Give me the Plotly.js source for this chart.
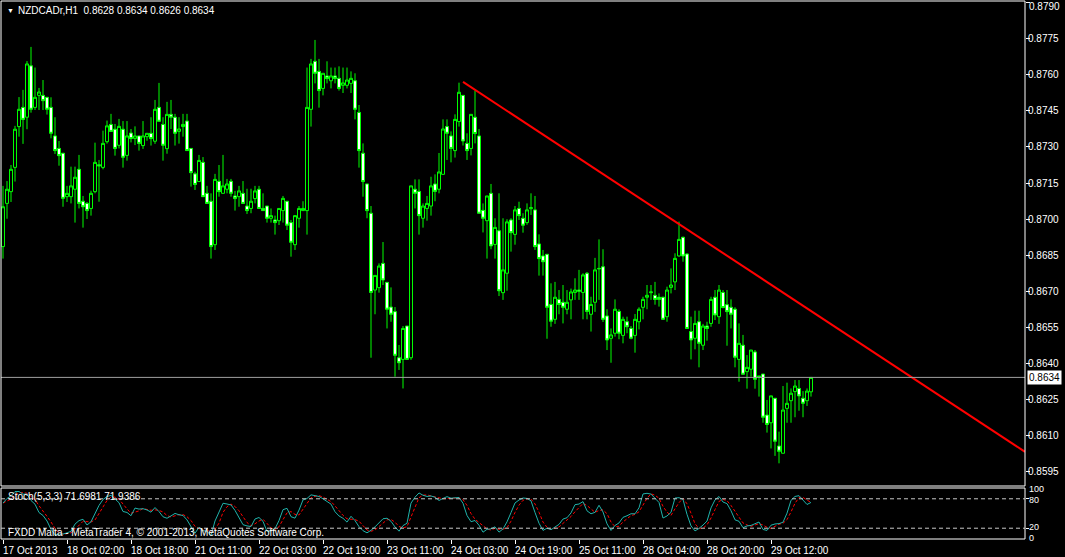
<!DOCTYPE html>
<html>
<head>
<meta charset="utf-8">
<script src="https://cdn.plot.ly/plotly-3.0.1.min.js"></script>
<style>
html,body{margin:0;padding:0;background:#000;}
#chart{width:1065px;height:557px;}
</style>
</head>
<body>
<div id="chart"></div>
<script>
// ---- Data: NZDCADr H1 candles ----
const O=[0.86885,0.87065,0.87114,0.87215,0.87385,0.87465,0.87424,0.87638,0.87465,0.87515,
0.87515,0.87507,0.87465,0.87346,0.87294,0.87274,0.87093,0.87093,0.87124,0.87207,
0.87074,0.87065,0.87044,0.87114,0.87226,0.87215,0.87322,0.87394,0.87374,0.87307,
0.87374,0.87265,0.87358,0.87335,0.87346,0.87306,0.87343,0.87357,0.87324,0.87465,
0.87394,0.87293,0.87436,0.87424,0.87365,0.87385,0.87408,0.87294,0.87188,0.87156,
0.87236,0.87107,0.87074,0.86893,0.87157,0.87107,0.87124,0.87157,0.87096,0.87093,
0.87107,0.87054,0.87044,0.87085,0.87124,0.87044,0.87054,0.87003,0.86996,0.86993,
0.87035,0.87074,0.86985,0.86893,0.87003,0.87035,0.87035,0.87457,0.87657,0.87615,
0.87544,0.87596,0.87576,0.87596,0.87586,0.87557,0.87557,0.87565,0.87576,0.87444,
0.87274,0.87146,0.87024,0.86704,0.86714,0.86815,0.86736,0.86633,0.86614,0.86422,
0.86415,0.86554,0.86422,0.87124,0.87115,0.87003,0.87044,0.87054,0.87146,0.87124,
0.87186,0.87385,0.87346,0.87285,0.87406,0.87515,0.87315,0.87294,0.87424,0.87346,
0.87036,0.86993,0.87107,0.86894,0.86951,0.86693,0.86774,0.86996,0.86936,0.87044,
0.87003,0.86985,0.87043,0.87038,0.86896,0.86846,0.86853,0.86644,0.86582,0.86665,
0.86653,0.86624,0.86663,0.86694,0.86704,0.86694,0.86774,0.86603,0.86653,0.86792,
0.86801,0.86596,0.86503,0.86524,0.86615,0.86515,0.86572,0.86544,0.86515,0.86572,
0.86632,0.86674,0.86693,0.86682,0.86674,0.86674,0.86593,0.86715,0.86738,0.86846,
0.86924,0.86854,0.86531,0.86503,0.86572,0.86474,0.86554,0.86565,0.86674,0.86593,
0.86694,0.86643,0.86632,0.86624,0.86415,0.86474,0.86364,0.86374,0.86446,0.86346,
0.86354,0.86183,0.86151,0.86253,0.86054,0.86024,0.86211,0.86243,0.86281,0.86294,
0.86253,0.86243,0.86280];
const H=[0.87138,0.87158,0.87225,0.87388,0.87508,0.87538,0.87658,0.87717,0.87631,0.87546,
0.87579,0.87507,0.87507,0.87424,0.87325,0.87274,0.87138,0.87218,0.87218,0.87267,
0.87096,0.87071,0.87118,0.87318,0.87246,0.87368,0.87410,0.87438,0.87396,0.87417,
0.87408,0.87408,0.87375,0.87386,0.87346,0.87408,0.87357,0.87424,0.87496,0.87567,
0.87424,0.87488,0.87496,0.87438,0.87424,0.87438,0.87438,0.87294,0.87197,0.87267,
0.87258,0.87138,0.87107,0.87188,0.87225,0.87267,0.87167,0.87167,0.87117,0.87138,
0.87158,0.87126,0.87126,0.87138,0.87138,0.87107,0.87054,0.87044,0.87014,0.87044,
0.87096,0.87074,0.86996,0.87014,0.87054,0.87074,0.87631,0.87667,0.87746,0.87667,
0.87607,0.87657,0.87631,0.87631,0.87636,0.87631,0.87631,0.87615,0.87607,0.87475,
0.87315,0.87146,0.87054,0.86765,0.86815,0.86904,0.86736,0.86715,0.86633,0.86475,
0.86554,0.86554,0.87138,0.87165,0.87165,0.87065,0.87096,0.87176,0.87186,0.87275,
0.87415,0.87415,0.87365,0.87436,0.87568,0.87515,0.87357,0.87436,0.87535,0.87375,
0.87065,0.87096,0.87146,0.87003,0.87107,0.87003,0.86999,0.87003,0.87054,0.87072,
0.87024,0.87065,0.87107,0.87096,0.86936,0.86871,0.86853,0.86732,0.86738,0.86704,
0.86725,0.86704,0.86710,0.86753,0.86788,0.86774,0.86779,0.86676,0.86838,0.86915,
0.86874,0.86624,0.86544,0.86665,0.86624,0.86593,0.86593,0.86554,0.86604,0.86632,
0.86676,0.86725,0.86725,0.86738,0.86690,0.86676,0.86718,0.86794,0.86857,0.86989,
0.86926,0.86857,0.86593,0.86618,0.86618,0.86563,0.86572,0.86676,0.86704,0.86725,
0.86704,0.86704,0.86665,0.86632,0.86565,0.86517,0.86433,0.86454,0.86454,0.86346,
0.86354,0.86246,0.86263,0.86253,0.86114,0.86304,0.86318,0.86294,0.86329,0.86329,
0.86283,0.86294,0.86340];
const L=[0.86835,0.87001,0.87071,0.87156,0.87343,0.87313,0.87374,0.87443,0.87454,0.87454,
0.87454,0.87435,0.87336,0.87271,0.87222,0.87051,0.87071,0.87065,0.86985,0.87044,
0.86964,0.87000,0.87014,0.87107,0.87072,0.87207,0.87314,0.87364,0.87264,0.87294,
0.87214,0.87243,0.87319,0.87308,0.87285,0.87292,0.87326,0.87306,0.87313,0.87407,
0.87243,0.87272,0.87375,0.87306,0.87314,0.87343,0.87285,0.87135,0.87121,0.87156,
0.87093,0.87065,0.86835,0.86871,0.87093,0.87107,0.87107,0.87093,0.87035,0.87051,
0.87065,0.87021,0.87024,0.87065,0.87044,0.87035,0.86985,0.86985,0.86935,0.86975,
0.86985,0.86954,0.86843,0.86871,0.86964,0.87035,0.86935,0.87385,0.87565,0.87464,
0.87515,0.87565,0.87544,0.87565,0.87535,0.87525,0.87544,0.87525,0.87415,0.87214,
0.87093,0.87003,0.86422,0.86603,0.86693,0.86725,0.86544,0.86572,0.86343,0.86371,
0.86294,0.86413,0.86413,0.87044,0.86935,0.86964,0.86993,0.87014,0.87074,0.87107,
0.87186,0.87246,0.87236,0.87256,0.87385,0.87306,0.87246,0.87265,0.87315,0.87024,
0.86944,0.86835,0.86874,0.86835,0.86679,0.86663,0.86701,0.86864,0.86893,0.86996,
0.86943,0.86976,0.87017,0.86871,0.86764,0.86764,0.86501,0.86551,0.86563,0.86603,
0.86565,0.86603,0.86582,0.86663,0.86663,0.86582,0.86582,0.86531,0.86613,0.86663,
0.86571,0.86454,0.86401,0.86510,0.86499,0.86482,0.86524,0.86499,0.86443,0.86540,
0.86582,0.86624,0.86663,0.86643,0.86635,0.86582,0.86572,0.86690,0.86704,0.86843,
0.86822,0.86544,0.86415,0.86457,0.86382,0.86454,0.86493,0.86551,0.86579,0.86563,
0.86628,0.86472,0.86544,0.86382,0.86322,0.86353,0.86293,0.86343,0.86293,0.86260,
0.86151,0.86110,0.86044,0.86013,0.85982,0.86024,0.86151,0.86151,0.86174,0.86201,
0.86174,0.86221,0.86260];
const C=[0.87051,0.87124,0.87207,0.87374,0.87457,0.87415,0.87646,0.87457,0.87507,0.87529,
0.87493,0.87457,0.87357,0.87285,0.87264,0.87086,0.87107,0.87138,0.87174,0.87065,
0.87051,0.87035,0.87107,0.87236,0.87221,0.87315,0.87388,0.87365,0.87294,0.87386,
0.87257,0.87346,0.87335,0.87346,0.87315,0.87346,0.87357,0.87335,0.87457,0.87407,
0.87307,0.87436,0.87424,0.87357,0.87375,0.87394,0.87285,0.87193,0.87144,0.87244,
0.87093,0.87065,0.86885,0.87165,0.87114,0.87138,0.87146,0.87107,0.87085,0.87117,
0.87065,0.87035,0.87074,0.87117,0.87044,0.87035,0.87003,0.87014,0.86985,0.87044,
0.87086,0.86974,0.86903,0.87014,0.87044,0.87044,0.87465,0.87646,0.87607,0.87535,
0.87607,0.87585,0.87596,0.87585,0.87544,0.87567,0.87579,0.87586,0.87457,0.87285,
0.87156,0.87035,0.86694,0.86765,0.86804,0.86746,0.86624,0.86603,0.86432,0.86401,
0.86544,0.86415,0.87138,0.87107,0.87014,0.87054,0.87065,0.87138,0.87115,0.87196,
0.87375,0.87357,0.87294,0.87415,0.87528,0.87325,0.87285,0.87436,0.87356,0.87024,
0.87003,0.87096,0.86888,0.86965,0.86701,0.86788,0.86988,0.86943,0.87038,0.87014,
0.86974,0.87038,0.87047,0.86885,0.86835,0.86822,0.86632,0.86574,0.86674,0.86644,
0.86632,0.86653,0.86696,0.86704,0.86699,0.86767,0.86615,0.86644,0.86788,0.86794,
0.86582,0.86496,0.86517,0.86624,0.86524,0.86582,0.86551,0.86503,0.86582,0.86624,
0.86665,0.86682,0.86696,0.86665,0.86665,0.86582,0.86704,0.86725,0.86836,0.86915,
0.86846,0.86544,0.86496,0.86565,0.86482,0.86554,0.86544,0.86665,0.86600,0.86704,
0.86631,0.86614,0.86603,0.86424,0.86482,0.86353,0.86382,0.86454,0.86332,0.86343,
0.86174,0.86144,0.86263,0.86074,0.86032,0.86204,0.86232,0.86274,0.86304,0.86263,
0.86232,0.86283,0.86340];

// Time axis labels (every 16 bars)
const tickIdx=[0,16,32,48,64,80,96,112,128,144,160,176,192];
const tickText=["17 Oct 2013","18 Oct 02:00","18 Oct 18:00","21 Oct 11:00","22 Oct 03:00",
"22 Oct 19:00","23 Oct 11:00","24 Oct 03:00","24 Oct 19:00","25 Oct 11:00",
"28 Oct 04:00","28 Oct 20:00","29 Oct 12:00"];

// Price scale ticks
const priceTicks=[0.8595,0.8610,0.8625,0.8640,0.8655,0.8670,0.8685,0.8700,0.8715,0.8730,0.8745,0.8760,0.8775,0.8790];

// Trend line (two anchor points)
const trendX=[115,255.5];
const trendY=[0.87571,0.86030];

const symbolText="NZDCADr,H1\u00a0 0.8628 0.8634 0.8626 0.8634";
const stochText="Stoch(5,3,3) 71.6981 71.9386";
const copyText="FXDD Malta - MetaTrader 4, \u00a9 2001-2013, MetaQuotes Software Corp.";
const lastPrice=0.8634;
const stochLevels=[20,80];
const stochLabels=["100","80","20","0"];

// ---- Stochastic (5,3,3) derived from the candles ----
const N=C.length;
const idx=[];for(let i=0;i<N;i++)idx.push(i);
const num=[],den=[];
for(let i=0;i<N;i++){
  const a=Math.max(0,i-4);
  let hh=-1e9,ll=1e9;
  for(let j=a;j<=i;j++){hh=Math.max(hh,H[j]);ll=Math.min(ll,L[j]);}
  num.push(C[i]-ll);den.push(hh-ll);
}
const K=[],D=[];
for(let i=0;i<N;i++){
  const a=Math.max(0,i-2);let sn=0,sd=0;
  for(let j=a;j<=i;j++){sn+=num[j];sd+=den[j];}
  K.push(sd>0?sn/sd*100:50);
}
for(let i=0;i<N;i++){
  const a=Math.max(0,i-2);let s=0,c=0;
  for(let j=a;j<=i;j++){s+=K[j];c++;}
  D.push(s/c);
}

// ---- Layout helpers (pixel -> paper) ----
const PL=1,PT=1,PW=1024,PH=540;
const px=x=>(x-PL)/PW;
const py=y=>(PT+PH-y)/PH;
const FONT="Liberation Sans, Arial, sans-serif";

const traces=[
 {type:'candlestick',x:idx,open:O,high:H,low:L,close:C,xaxis:'x',yaxis:'y',
  increasing:{line:{color:'#00FF00',width:1},fillcolor:'#000000'},
  decreasing:{line:{color:'#00FF00',width:1},fillcolor:'#FFFFFF'},
  whiskerwidth:0,hoverinfo:'skip',showlegend:false},
 {type:'scatter',mode:'lines',x:trendX,y:trendY,xaxis:'x',yaxis:'y',
  line:{color:'#FF0000',width:2},hoverinfo:'skip',showlegend:false},
 {type:'scatter',mode:'lines',x:idx,y:D,xaxis:'x',yaxis:'y2',
  line:{color:'#FF0000',width:1,dash:'3px,2px'},hoverinfo:'skip',showlegend:false},
 {type:'scatter',mode:'lines',x:idx,y:K,xaxis:'x',yaxis:'y2',
  line:{color:'#20B2AA',width:1},hoverinfo:'skip',showlegend:false}
];

const annotations=[];
annotations.push({xref:'paper',yref:'paper',x:px(5),y:py(10),xanchor:'left',yanchor:'middle',
  text:'\u25BC',showarrow:false,font:{family:FONT,size:7,color:'#FFFFFF'}});
annotations.push({xref:'paper',yref:'paper',x:px(16),y:py(10),xanchor:'left',yanchor:'middle',
  text:symbolText,showarrow:false,font:{family:FONT,size:10,color:'#FFFFFF'}});
annotations.push({xref:'paper',yref:'paper',x:px(6),y:py(496),xanchor:'left',yanchor:'middle',
  text:stochText,showarrow:false,font:{family:FONT,size:10,color:'#FFFFFF'}});
annotations.push({xref:'paper',yref:'paper',x:px(6),y:py(532),xanchor:'left',yanchor:'middle',
  text:copyText,showarrow:false,font:{family:FONT,size:10,color:'#FFFFFF'}});
tickIdx.forEach((t,k)=>{
  annotations.push({xref:'x',yref:'paper',x:t,y:py(543),xanchor:'left',yanchor:'top',
    xshift:-2,text:tickText[k],showarrow:false,font:{family:FONT,size:10,color:'#FFFFFF'}});
});
// top price label placed just inside the page so it is not cut
const topTick=priceTicks[priceTicks.length-1];
annotations.push({xref:'paper',yref:'paper',x:1,y:py(0),xanchor:'left',yanchor:'top',xshift:3,
  text:topTick.toFixed(4),showarrow:false,borderpad:0,font:{family:FONT,size:10,color:'#FFFFFF'}});
annotations.push({xref:'paper',yref:'y',x:1,y:lastPrice,xanchor:'left',yanchor:'middle',xshift:2,
  text:lastPrice.toFixed(4),showarrow:false,bgcolor:'#FFFFFF',borderpad:1,
  font:{family:FONT,size:10,color:'#000000'}});
// stochastic scale labels
const stochLabelY=[489,500,527,538];
stochLabels.forEach((t,k)=>{
  annotations.push({xref:'paper',yref:'paper',x:1,y:py(stochLabelY[k]),xanchor:'left',yanchor:'middle',xshift:3,
    text:t,showarrow:false,borderpad:0,font:{family:FONT,size:9,color:'#FFFFFF'}});
});

const mainBottom=py(486), stTop=py(488), stBottom=py(539);
const shapes=[
 {type:'line',xref:'paper',yref:'y',x0:0,x1:1,y0:lastPrice,y1:lastPrice,line:{color:'#A0A0A0',width:1}},
 {type:'rect',xref:'paper',yref:'paper',x0:0,x1:1,y0:mainBottom,y1:1,line:{color:'#FFFFFF',width:1}},
 {type:'rect',xref:'paper',yref:'paper',x0:0,x1:1,y0:stBottom,y1:stTop,line:{color:'#FFFFFF',width:1}}
];
stochLevels.forEach(v=>{
  shapes.push({type:'line',xref:'paper',yref:'y2',x0:0,x1:1,y0:v,y1:v,
    line:{color:'#C8C8C8',width:1,dash:'4px,3px'}});
});

const layout={
 width:1065,height:557,
 margin:{l:PL,r:1065-PL-PW,t:PT,b:557-PT-PH},
 paper_bgcolor:'#000000',plot_bgcolor:'#000000',
 showlegend:false,boxgap:0.25,boxgroupgap:0,
 font:{family:FONT,size:10,color:'#FFFFFF'},
 xaxis:{range:[-0.5,255.5],anchor:'y2',showgrid:false,zeroline:false,showline:false,
  tickmode:'array',tickvals:tickIdx,ticks:'outside',ticklen:4,tickcolor:'#FFFFFF',
  showticklabels:false,rangeslider:{visible:false},fixedrange:true},
 yaxis:{domain:[mainBottom,1],range:[0.858875,0.879083],side:'right',anchor:'x',
  showgrid:false,zeroline:false,showline:false,tickmode:'array',tickvals:priceTicks,
  ticktext:priceTicks.map((v,k)=>k===priceTicks.length-1?'':v.toFixed(4)),
  ticks:'outside',ticklen:4,tickcolor:'#FFFFFF',ticklabelstandoff:-4,
  tickfont:{family:FONT,size:10,color:'#FFFFFF'},fixedrange:true},
 yaxis2:{domain:[stBottom,stTop],range:[-2,102],side:'right',anchor:'x',
  showgrid:false,zeroline:false,showline:false,tickmode:'array',tickvals:[20,80],
  ticks:'outside',ticklen:3,tickcolor:'#FFFFFF',showticklabels:false,fixedrange:true},
 annotations:annotations,shapes:shapes
};

Plotly.newPlot('chart',traces,layout,{displayModeBar:false,staticPlot:true});
</script>
</body>
</html>
